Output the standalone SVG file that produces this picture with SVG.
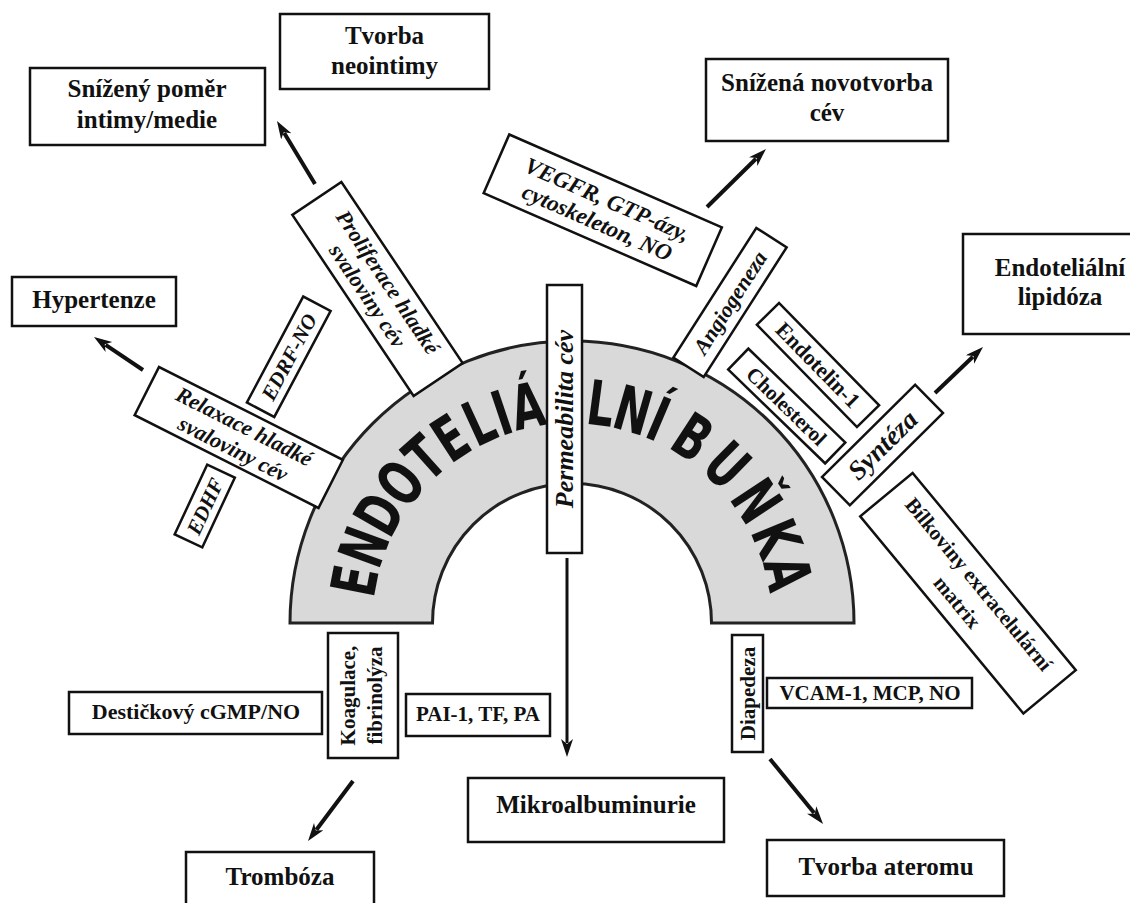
<svg xmlns="http://www.w3.org/2000/svg" width="1130" height="903" viewBox="0 0 1130 903">
<style>
.box{fill:#fff;stroke:#111;stroke-width:2.5}
.t{font-family:"Liberation Serif","Times New Roman",serif;font-weight:bold;fill:#111;text-anchor:middle}
.i{font-style:italic}
.big{font-size:25px}
.arr{stroke:#111;stroke-width:4;fill:none;marker-end:url(#ah)}
.bl{font-family:"DejaVu Sans","Liberation Sans",Arial,sans-serif;font-weight:bold;font-size:62px;text-anchor:middle;fill:#111}
</style>
<defs>
<marker id="ah" markerUnits="userSpaceOnUse" markerWidth="20" markerHeight="14" refX="4" refY="6" orient="auto">
<path d="M0,0 L18,6 L0,12 L5,6 Z" fill="#111"/>
</marker>
</defs>
<rect width="1130" height="903" fill="#fff"/>

<g id="cell">
<path d="M290 623 A282 282 0 0 1 854 623 L711.5 623 A139.5 139.5 0 0 0 432.5 623 Z" fill="#d9d9d9" stroke="#222" stroke-width="3"/>
<text class="bl" transform="translate(354.1,580.6) rotate(-79) scale(0.68,1)" y="22.5">E</text>
<text class="bl" transform="translate(363.5,546.7) rotate(-69.9) scale(0.68,1)" y="22.5">N</text>
<text class="bl" transform="translate(378.8,513.7) rotate(-60.5) scale(0.68,1)" y="22.5">D</text>
<text class="bl" transform="translate(400,482.7) rotate(-50.8) scale(0.68,1)" y="22.5">O</text>
<text class="bl" transform="translate(424.3,457.3) rotate(-41.7) scale(0.68,1)" y="22.5">T</text>
<text class="bl" transform="translate(450.1,437.5) rotate(-33.3) scale(0.68,1)" y="22.5">E</text>
<text class="bl" transform="translate(478.9,421.5) rotate(-24.8) scale(0.68,1)" y="22.5">L</text>
<text class="bl" transform="translate(501.6,412.5) rotate(-18.5) scale(0.68,1)" y="22.5">I</text>
<text class="bl" transform="translate(527.4,405.5) rotate(-11.6) scale(0.68,1)" y="22.5">Á</text>
<text class="bl" transform="translate(601,402.9) rotate(7.5) scale(0.68,1)" y="22.5">L</text>
<text class="bl" transform="translate(633.2,409.6) rotate(16) scale(0.68,1)" y="22.5">N</text>
<text class="bl" transform="translate(658.7,418.6) rotate(23) scale(0.68,1)" y="22.5">Í</text>
<text class="bl" transform="translate(692.9,436.8) rotate(33) scale(0.68,1)" y="22.5">B</text>
<text class="bl" transform="translate(727.6,464.6) rotate(44.5) scale(0.68,1)" y="22.5">U</text>
<text class="bl" transform="translate(757.1,500.5) rotate(56.5) scale(0.68,1)" y="22.5">Ň</text>
<text class="bl" transform="translate(777.1,538) rotate(67.5) scale(0.68,1)" y="22.5">K</text>
<text class="bl" transform="translate(788.3,573) rotate(77) scale(0.68,1)" y="22.5">A</text>
</g>

<g id="connectors">
<line class="arr" x1="315" y1="184" x2="284.2" y2="133"/>
<line class="arr" x1="143" y1="370" x2="105.6" y2="344.8"/>
<line class="arr" x1="707" y1="207" x2="756" y2="158.8"/>
<line class="arr" x1="935" y1="393" x2="972.9" y2="356.7"/>
<line class="arr" x1="567" y1="558" x2="567" y2="743" style="stroke-width:3"/>
<line class="arr" x1="353" y1="781" x2="316.4" y2="829.8"/>
<line class="arr" x1="770" y1="759" x2="814.2" y2="813.1"/>
</g>

<g id="tvorba-neointimy">
<rect class="box" x="280" y="14" width="209" height="75"/>
<text class="t big" x="384.5" y="43.5">Tvorba</text>
<text class="t big" x="384.5" y="73.5">neointimy</text>
</g>
<g id="snizeny-pomer">
<rect class="box" x="30" y="68" width="235" height="77"/>
<text class="t big" x="147" y="97">Snížený poměr</text>
<text class="t big" x="147" y="128">intimy/medie</text>
</g>
<g id="hypertenze">
<rect class="box" x="12" y="277" width="164" height="49"/>
<text class="t big" x="94" y="308">Hypertenze</text>
</g>
<g id="snizena-novotvorba">
<rect class="box" x="706" y="59" width="242" height="82"/>
<text class="t big" x="827" y="91">Snížená novotvorba</text>
<text class="t big" x="827" y="121">cév</text>
</g>
<g id="endotelialni-lipidoza">
<rect class="box" x="963" y="234" width="200" height="100"/>
<text class="t big" x="1060" y="276">Endoteliální</text>
<text class="t big" x="1060" y="305">lipidóza</text>
</g>
<g id="mikroalbuminurie">
<rect class="box" x="468" y="778" width="256" height="64"/>
<text class="t big" x="596" y="813">Mikroalbuminurie</text>
</g>
<g id="tromboza">
<rect class="box" x="186" y="852" width="188" height="70"/>
<text class="t big" x="280" y="885">Trombóza</text>
</g>
<g id="tvorba-ateromu">
<rect class="box" x="767" y="840" width="237" height="56"/>
<text class="t big" x="886" y="875">Tvorba ateromu</text>
</g>
<g id="desticky">
<rect class="box" x="69" y="692" width="253" height="42"/>
<text class="t" font-size="22" x="196" y="719">Destičkový cGMP/NO</text>
</g>
<g id="pai">
<rect class="box" x="406" y="694" width="144" height="42"/>
<text class="t" font-size="21" x="478" y="721">PAI-1, TF, PA</text>
</g>
<g id="vcam">
<rect class="box" x="767" y="678" width="205" height="30"/>
<text class="t" font-size="21" x="870" y="700">VCAM-1, MCP, NO</text>
</g>
<g id="koagulace">
<rect class="box" x="328" y="633" width="70" height="125"/>
<g transform="translate(363,695.5) rotate(-90)">
<text class="t" font-size="21" y="-8">Koagulace,</text>
<text class="t" font-size="21" y="19">fibrinolýza</text>
</g>
</g>
<g id="diapedeza">
<rect class="box" x="732" y="635" width="31" height="117"/>
<text class="t" font-size="21" transform="translate(747.5,693.5) rotate(-90)" y="7">Diapedeza</text>
</g>

<g id="proliferace" transform="translate(377.5,289) rotate(56.2)">
<rect class="box" x="-109" y="-29.5" width="218" height="59"/>
<text class="t i" font-size="22" y="-5">Proliferace hladké</text>
<text class="t i" font-size="22" y="19.5">svaloviny cév</text>
</g>
<g id="edrf-no" transform="translate(288.75,356.75) rotate(-62)">
<rect class="box" x="-60" y="-15.5" width="120" height="31"/>
<text class="t i" font-size="21" y="7.5">EDRF-NO</text>
</g>
<g id="relaxace" transform="translate(238.75,437.5) rotate(26.8)">
<rect class="box" x="-103" y="-27" width="206" height="54"/>
<text class="t i" font-size="22" y="-5">Relaxace hladké</text>
<text class="t i" font-size="22" y="20">svaloviny cév</text>
</g>
<g id="edhf" transform="translate(204.75,506) rotate(-65)">
<rect class="box" x="-38.5" y="-15.25" width="77" height="30.5"/>
<text class="t i" font-size="21" y="7.5">EDHF</text>
</g>
<g id="vegfr" transform="translate(602.75,210.25) rotate(23.6)">
<rect class="box" x="-116" y="-32" width="232" height="64"/>
<text class="t i" font-size="23" y="-4">VEGFR, GTP-ázy,</text>
<text class="t i" font-size="23" y="21">cytoskeleton, NO</text>
</g>
<g id="angiogeneza" transform="translate(730,302.5) rotate(-57.4)">
<rect class="box" x="-77" y="-18" width="154" height="36"/>
<text class="t i" font-size="22" y="7.5">Angiogeneza</text>
</g>
<g id="endotelin" transform="translate(818,365) rotate(45.6)">
<rect class="box" x="-71.5" y="-15.5" width="143" height="31"/>
<text class="t" font-size="22" y="7.5">Endotelin-1</text>
</g>
<g id="cholesterol" transform="translate(786.75,406) rotate(44.1)">
<rect class="box" x="-67.5" y="-14.5" width="135" height="29"/>
<text class="t" font-size="21" y="7.5">Cholesterol</text>
</g>
<g id="synteza" transform="translate(882.5,445) rotate(-44.7)">
<rect class="box" x="-65.5" y="-19.8" width="131" height="39.6"/>
<text class="t i" font-size="27" y="9">Syntéza</text>
</g>
<g id="bilkoviny" transform="translate(968,593.25) rotate(50.4)">
<rect class="box" x="-128" y="-34" width="256" height="68"/>
<text class="t" font-size="21" y="-7">Bílkoviny extracelulární</text>
<text class="t" font-size="21" y="21">matrix</text>
</g>
<g id="permeabilita">
<rect class="box" x="547" y="285" width="35" height="268"/>
<text class="t i" font-size="26" transform="translate(564.5,419) rotate(-90)" y="8.5">Permeabilita cév</text>
</g>
</svg>
